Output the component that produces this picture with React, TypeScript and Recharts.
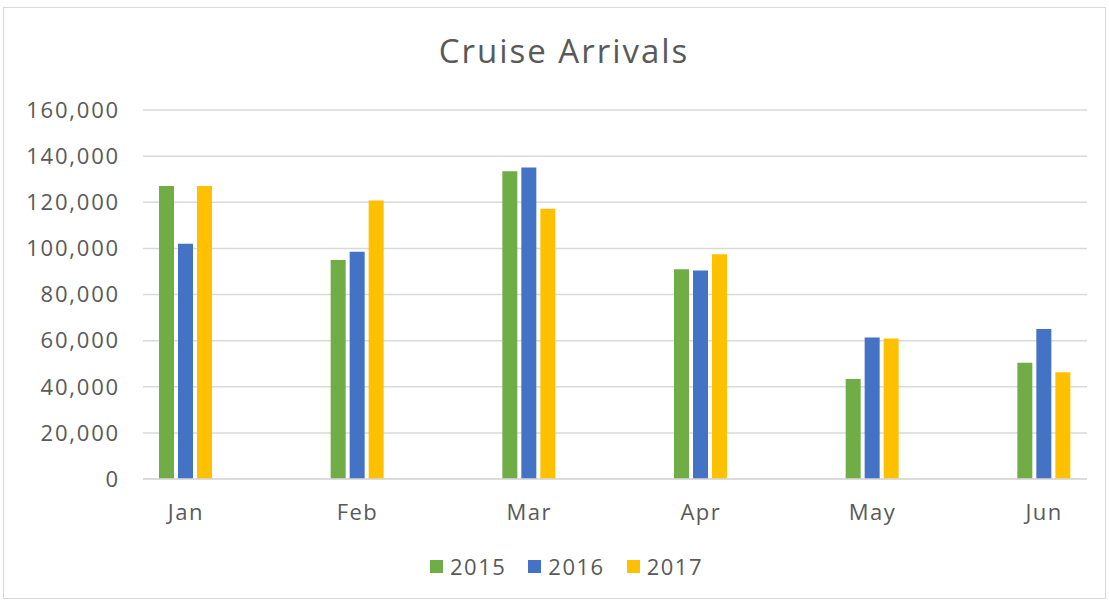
import React from "react";
import { BarChart, Bar, XAxis, YAxis, CartesianGrid } from "recharts";

const months = ["Jan", "Feb", "Mar", "Apr", "May", "Jun"];
const arrivals2015 = [127000, 95000, 133400, 91000, 43400, 50400];
const arrivals2016 = [102000, 98500, 135100, 90400, 61400, 65000];
const arrivals2017 = [127000, 120800, 117200, 97500, 60900, 46300];
const yTicks = [0, 20000, 40000, 60000, 80000, 100000, 120000, 140000, 160000];

const series = [
  { key: "y2015", name: "2015", color: "#70AD47" },
  { key: "y2016", name: "2016", color: "#4472C4" },
  { key: "y2017", name: "2017", color: "#FFC000" },
];

const data = months.map((m, i) => ({
  month: m,
  y2015: arrivals2015[i],
  y2016: arrivals2016[i],
  y2017: arrivals2017[i],
}));

const font = "'Open Sans', sans-serif";
const textColor = "#595959";

const App = () => {
  return (
    <div style={{ position: "absolute", left: 0, top: 0, width: 1109, height: 602, background: "#fff", fontFamily: font }}>
      {/* chart frame */}
      <div style={{ position: "absolute", left: 3, top: 7, width: 1103, height: 592, border: "1px solid #d9d9d9", boxSizing: "border-box" }} />

      <div style={{ position: "absolute", left: 0, top: 28, width: 1128, textAlign: "center", fontSize: 33, letterSpacing: 2, color: textColor }}>
        Cruise Arrivals
      </div>

      <div style={{ position: "absolute", left: 0, top: 0 }}>
        <BarChart
          width={1109}
          height={602}
          data={data}
          margin={{ top: 110, right: 22, left: 10, bottom: 83 }}
          barSize={15}
          barGap={4}
        >
          <CartesianGrid vertical={false} stroke="#d9d9d9" strokeWidth={1.5} />
          <XAxis
            dataKey="month"
            height={40}
            padding={{ left: -43, right: -43 }}
            axisLine={{ stroke: "#d9d9d9", strokeWidth: 1.5 }}
            tickLine={false}
            tickSize={0}
            tickMargin={25}
            tick={{ fill: textColor, fontSize: 22, fontFamily: font, letterSpacing: 1.5 }}
          />
          <YAxis
            width={133}
            domain={[0, 160000]}
            ticks={yTicks}
            axisLine={false}
            tickLine={false}
            tickSize={0}
            tickMargin={23}
            tickFormatter={(v: number) => v.toLocaleString("en-US")}
            tick={{ fill: textColor, fontSize: 22, fontFamily: font, letterSpacing: 1.8 }}
          />
          {series.map((s) => (
            <Bar key={s.key} dataKey={s.key} name={s.name} fill={s.color} isAnimationActive={false} />
          ))}
        </BarChart>
      </div>

      {/* legend */}
      <div style={{ position: "absolute", left: 430, top: 551, display: "flex", alignItems: "center", fontSize: 22, letterSpacing: 1.5, color: textColor }}>
        {series.map((s) => (
          <div key={s.key} style={{ display: "flex", alignItems: "center", marginRight: 22 }}>
            <span style={{ display: "inline-block", width: 13, height: 13, background: s.color, marginRight: 7 }} />
            <span>{s.name}</span>
          </div>
        ))}
      </div>
    </div>
  );
};

export default App;
